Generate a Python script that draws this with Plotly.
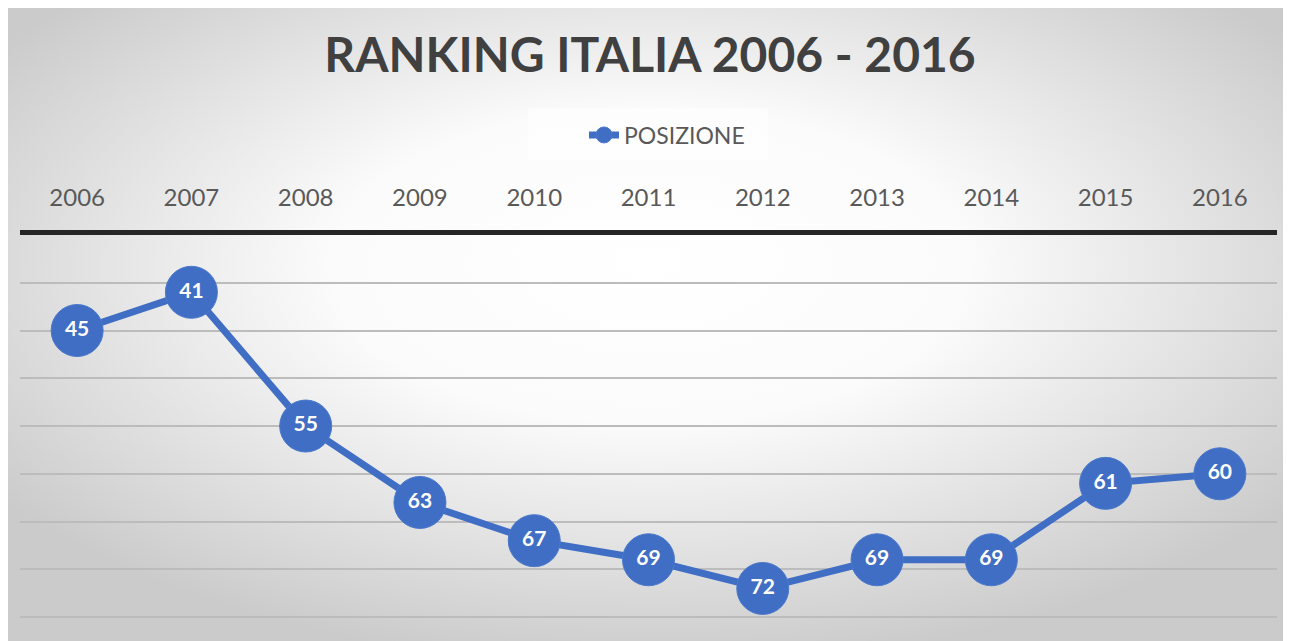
import base64
import plotly.graph_objects as go

years = ["2006", "2007", "2008", "2009", "2010", "2011", "2012", "2013", "2014", "2015", "2016"]
posizione = [45, 41, 55, 63, 67, 69, 72, 69, 69, 61, 60]
series_name = "POSIZIONE"
title_text = "RANKING ITALIA 2006 - 2016"

OFF = 8  # page body margin
W, H = 1283, 633
ML, MR, MT, MB = 12, 14, 227, 22
PW = W - ML - MR
PH = H - MT - MB


def px_x(sx):
    return (sx - OFF - ML) / PW


def px_y(sy):
    return 1 - (sy - OFF - MT) / PH


svg = f'''<svg xmlns="http://www.w3.org/2000/svg" width="{W}" height="{H}" viewBox="0 0 {W} {H}" preserveAspectRatio="none">
<defs><radialGradient id="g" cx="50%" cy="42%" r="62%" fx="50%" fy="40%">
<stop offset="0%" stop-color="#ffffff"/>
<stop offset="40%" stop-color="#fbfbfb"/>
<stop offset="100%" stop-color="#cbcbcb"/>
</radialGradient></defs>
<rect x="0" y="0" width="{W}" height="{H}" fill="url(#g)"/>
</svg>'''
src = "data:image/svg+xml;base64," + base64.b64encode(svg.encode()).decode()

blue = "#3F6EC4"

fig = go.Figure()
fig.add_trace(go.Scatter(
    x=years, y=posizione, name=series_name,
    mode="lines+markers+text",
    line=dict(color=blue, width=7),
    marker=dict(color=blue, size=52, line=dict(color="#4a78cc", width=1)),
    text=[str(v) for v in posizione],
    textposition="middle center",
    textfont=dict(family="Lato", size=21, color="white", weight="bold"),
    cliponaxis=False,
))

fig.update_layout(
    width=W, height=H,
    margin=dict(l=ML, r=MR, t=MT, b=MB),
    paper_bgcolor="rgba(0,0,0,0)",
    plot_bgcolor="rgba(0,0,0,0)",
    title=dict(text=title_text, x=(650 - OFF) / W, xanchor="center", y=1 - (55 - OFF) / H, yanchor="middle",
               font=dict(family="Lato", size=48, color="#404040", weight="bold")),
    showlegend=True,
    legend=dict(orientation="h", x=px_x(667), xanchor="center", y=px_y(135), yanchor="middle",
                bgcolor="rgba(0,0,0,0)",
                font=dict(family="Lato", size=23, color="#595959"),
                itemwidth=30),
    xaxis=dict(side="top", type="category", range=[-0.5, 10.5],
               showline=True, linecolor="#262626", linewidth=5,
               showgrid=False, ticks="", ticklabelstandoff=14,
               tickfont=dict(family="Lato", size=24, color="#595959")),
    yaxis=dict(range=[75.2, 35], dtick=5, tick0=35, showgrid=True, gridcolor="#bcbcbc", gridwidth=2,
               showticklabels=False, zeroline=False, showline=False, ticks=""),
    images=[dict(source=src, xref="paper", yref="paper",
                 x=-ML / PW, y=1 + MT / PH, sizex=W / PW, sizey=H / PH,
                 xanchor="left", yanchor="top", sizing="stretch", layer="below")],
    shapes=[dict(type="rect", xref="paper", yref="paper",
                 x0=px_x(528), x1=px_x(768), y0=px_y(160), y1=px_y(108),
                 fillcolor="rgba(255,255,255,0.55)", line=dict(width=0), layer="below")],
)

fig.write_html("out.html")
